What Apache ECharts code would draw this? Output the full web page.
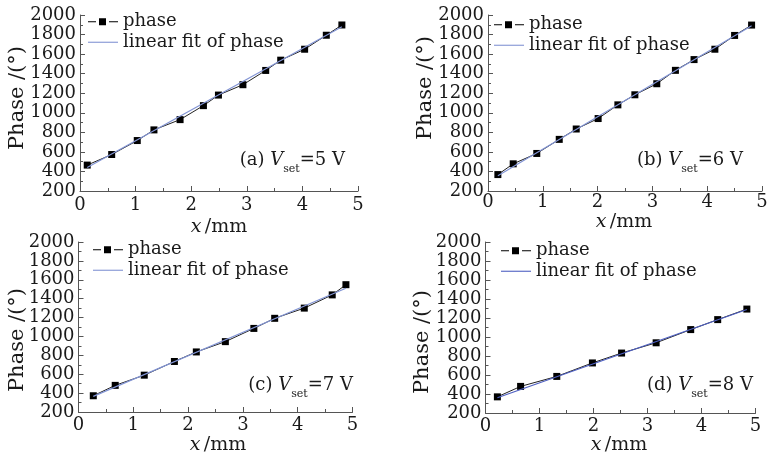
<!DOCTYPE html>
<html>
<head>
<meta charset="utf-8">
<script src="https://cdn.jsdelivr.net/npm/echarts@6/dist/echarts.min.js"></script>
<style>html,body{margin:0;padding:0;background:#fff;}#c{width:772px;height:459px;}</style>
</head>
<body>
<div id="c"></div>
<script>
// ---- data ----
const xA = [0.13,0.57,1.03,1.33,1.80,2.22,2.49,2.93,3.34,3.61,4.04,4.43,4.71];
const yA = [465,573,716,825,930,1073,1181,1287,1433,1538,1650,1793,1898];
const fitXA = [0.13,4.71];
const fitYA = [440,1880];

const xB = [0.18,0.46,0.89,1.30,1.61,2.01,2.37,2.68,3.08,3.42,3.76,4.14,4.50,4.81];
const yB = [368,478,584,728,834,941,1081,1184,1297,1434,1544,1650,1791,1897];
const fitXB = [0.18,4.81];
const fitYB = [355,1890];

const xC = [0.27,0.67,1.20,1.75,2.15,2.68,3.20,3.58,4.12,4.63,4.88];
const yC = [372,482,590,735,836,945,1085,1192,1300,1440,1548];
const fitXC = [0.27,4.88];
const fitYC = [365,1510];

const xD = [0.22,0.65,1.32,1.98,2.52,3.16,3.80,4.30,4.84];
const yD = [370,480,585,727,831,939,1078,1183,1294];
const fitXD = [0.22,4.84];
const fitYD = [360,1290];

const panelLabels = ['(a) ','(b) ','(c) ','(d) '];
const voltages = ['=5 V','=6 V','=7 V','=8 V'];
const xTicks = [0,1,2,3,4,5];
const yMin = 200, yMax = 2000, yStep = 200;
const legendNames = ['phase','linear fit of phase'];

// ---- layout ----
const FONT = "'DejaVu Serif','Liberation Serif',serif";
const TXT = '#1a1a1a';
const AX = '#555';
const grids = [
  {left:80, top:15, width:278, height:176},
  {left:488, top:15, width:274, height:176},
  {left:78.5, top:242, width:274, height:170},
  {left:485.5, top:242, width:270, height:171}
];
const fitColors = ['#8294d4','#8294d4','#8294d4','#4f60c2'];
const legendPos = [[88,11.5],[494,14.5],[93,239.5],[501,240.5]];
const annPos = [[345,166],[743,166],[353,391],[753,391]];
const xNamePos = [[219,227],[624,222],[218,445],[619,445]];
const yNamePos = [[18,98],[426,88],[18,340],[423,342]];
const xLabelMargin = [5,2,4,4];

const PHASE_ICON = 'path://M0,4.5h8v1h-8z M11,1.5h7v7h-7z M21,4.5h9v1h-9z';
const FIT_ICON = 'path://M0,0h30v1.1h-30z';

const xs = [xA,xB,xC,xD], ys=[yA,yB,yC,yD];
const fxs=[fitXA,fitXB,fitXC,fitXD], fys=[fitYA,fitYB,fitYC,fitYD];
const tag = i => '\u200b'.repeat(i);

const option = {
  backgroundColor:'#fff',
  animation:false,
  grid: grids,
  xAxis: grids.map((g,i)=>({
    gridIndex:i, type:'value', min:xTicks[0], max:xTicks[xTicks.length-1], interval:1,
    axisLine:{show:true, onZero:false, lineStyle:{color:AX,width:1}},
    axisTick:{show:true, inside:true, length:5, lineStyle:{color:AX}},
    minorTick:{show:true, splitNumber:2, length:3, lineStyle:{color:AX}},
    splitLine:{show:false},
    axisLabel:{color:TXT, fontFamily:FONT, fontSize:18, margin:xLabelMargin[i],
      showMinLabel:true, showMaxLabel:true, hideOverlap:false, formatter:v=>String(v)}
  })),
  yAxis: grids.map((g,i)=>({
    gridIndex:i, type:'value', min:yMin, max:yMax, interval:yStep,
    axisLine:{show:true, lineStyle:{color:AX,width:1}},
    axisTick:{show:true, inside:true, length:5, lineStyle:{color:AX}},
    minorTick:{show:true, splitNumber:2, length:3, lineStyle:{color:AX}},
    splitLine:{show:false},
    axisLabel:{color:TXT, fontFamily:FONT, fontSize:18, margin:4, interval:0,
      showMinLabel:true, showMaxLabel:true, hideOverlap:false, formatter:v=>String(v)}
  })),
  legend: grids.map((g,i)=>({
    left:legendPos[i][0], top:legendPos[i][1], orient:'vertical',
    itemWidth:30, itemHeight:10, itemGap:0, padding:0,
    data:[{name:legendNames[0]+tag(i), icon:PHASE_ICON},{name:legendNames[1]+tag(i), icon:FIT_ICON}],
    formatter: n=>n.replace(/\u200b/g,''),
    textStyle:{color:TXT, fontFamily:FONT, fontSize:18, lineHeight:20.5}
  })),
  series: [],
  graphic: []
};

for(let i=0;i<4;i++){
  option.series.push({
    name:legendNames[0]+tag(i), type:'line', xAxisIndex:i, yAxisIndex:i,
    data: xs[i].map((x,k)=>[x,ys[i][k]]),
    symbol:'rect', symbolSize:7, showSymbol:true,
    itemStyle:{color:'#000'}, lineStyle:{color:'#222', width:1}, z:3
  });
  option.series.push({
    name:legendNames[1]+tag(i), type:'line', xAxisIndex:i, yAxisIndex:i,
    data: fxs[i].map((x,k)=>[x,fys[i][k]]),
    symbol:'none', showSymbol:false,
    itemStyle:{color:fitColors[i]}, lineStyle:{color:fitColors[i], width:1.2}, z:4
  });
  option.graphic.push({
    type:'text', right: 772-annPos[i][0], top: annPos[i][1]-15,
    style:{
      text:'{n|'+panelLabels[i]+'}{v|V}{s|set}{n|'+voltages[i]+'}',
      rich:{
        n:{fontFamily:FONT, fontSize:18, fill:TXT, lineHeight:30, verticalAlign:'middle'},
        v:{fontFamily:FONT, fontSize:18, fontStyle:'italic', fill:TXT, lineHeight:30, verticalAlign:'middle'},
        s:{fontFamily:FONT, fontSize:11, fill:TXT, lineHeight:28, verticalAlign:'bottom'}
      }
    }
  });
  option.graphic.push({
    type:'text', x:xNamePos[i][0], y:xNamePos[i][1],
    style:{
      text:'{i|x} {n|/mm}', align:'center', verticalAlign:'middle',
      rich:{
        i:{fontFamily:FONT, fontSize:19, fontStyle:'italic', fill:TXT},
        n:{fontFamily:FONT, fontSize:19, fill:TXT}
      }
    }
  });
  option.graphic.push({
    type:'text', x:yNamePos[i][0], y:yNamePos[i][1], rotation:Math.PI/2,
    style:{text:'Phase /(°)', fontFamily:FONT, fontSize:21, fill:TXT, align:'center', verticalAlign:'middle'}
  });
}

const chart = echarts.init(document.getElementById('c'), null, {renderer:'canvas'});
chart.setOption(option);
</script>
</body>
</html>
